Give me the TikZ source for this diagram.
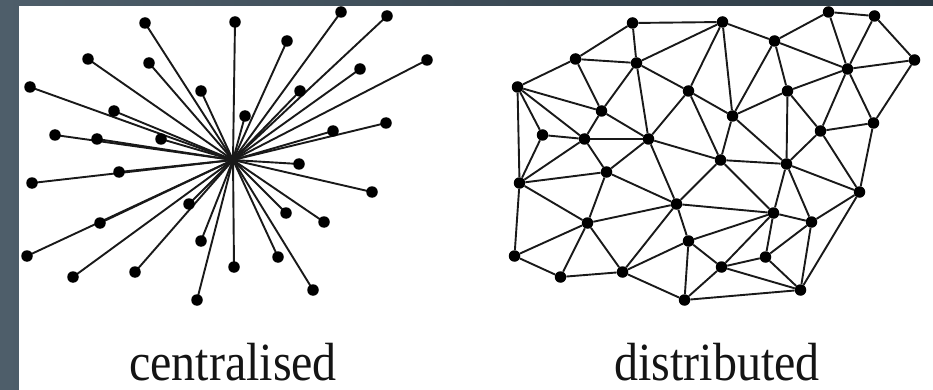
\documentclass[tikz,border=0pt]{standalone}
\usepackage{fontspec}
\setmainfont{Liberation Serif}
\definecolor{bgL}{RGB}{78,94,106}
\definecolor{bgR}{RGB}{44,58,68}
\begin{document}
\begin{tikzpicture}[x=1pt,y=-1pt]
\tikzset{
  dot/.style={circle,fill=black,inner sep=0pt,minimum size=11.5pt},
  link/.style={draw=black!90,line width=1.9pt},
  lbl/.style={font=\fontsize{48}{52}\selectfont,anchor=base,inner sep=0pt,text=black!92}
}
\useasboundingbox (0,0) rectangle (933,390);
\shade[left color=bgL,right color=bgR] (0,0) rectangle (933,390);
\fill[white] (19,6) rectangle (933,390);
% node positions (star coordinates); mesh is shifted right
\def\pts{A/145/23, B/235/22, C/88/59, D/149/63, E/30/87, F/201/91, G/114/111, H/55/135, I/97/139, J/161/139, K/287/41, L/341/12, M/387/16, N/360/69, O/427/60, P/300/91, Q/245/116, R/333/131, S/386/123, T/32/183, U/119/172, V/100/223, W/27/256, X/73/277, Y/135/272, Z/189/204, a/201/241, b/234/267, c/197/300, d/299/164, e/372/192, f/286/213, g/324/222, h/278/257, i/313/290}
\coordinate (sctr) at (233,160);
% star connectors
\foreach \n/\x/\y in \pts {
  \coordinate (p\n) at (\x,\y);
  \draw[link] (sctr) -- (p\n);
}
\foreach \n/\x/\y in \pts {
  \node[dot] (s\n) at (\x,\y) {};
  \node[dot] (m\n) at (\x+487.5,\y) {};
}
\node[dot] (mctr) at (720.5,160) {};
% mesh connectors
\foreach \p/\q in {A/B, A/C, A/D, B/D, B/F, B/K, B/Q, C/D, C/E, C/G, D/G, D/J, D/F, F/J, F/Q, F/ctr, E/G, E/H, E/I, E/T, G/I, G/J, H/I, H/T, I/J, I/T, I/U, J/U, J/Z, J/ctr, K/L, K/N, K/P, K/Q, L/M, L/N, M/N, M/O, N/O, N/P, N/R, N/S, O/S, P/Q, P/R, P/d, Q/ctr, Q/d, R/S, R/d, R/e, S/e, T/U, T/V, T/W, U/V, U/Z, V/W, V/X, V/Y, V/Z, W/X, X/Y, Y/Z, Y/a, Y/c, Z/ctr, Z/a, Z/f, ctr/d, ctr/f, a/f, a/b, a/c, c/b, c/i, d/e, d/f, d/g, e/g, e/i, f/g, f/h, f/b, g/h, g/i, h/b, h/i, b/i} {
  \draw[link] (m\p) -- (m\q);
}
\node[lbl] (t1) at (233,380) {\scalebox{1}[1.12]{centralised}};
\node[lbl] (t2) at (717,380) {\scalebox{1}[1.12]{distributed}};
\end{tikzpicture}
\end{document}
